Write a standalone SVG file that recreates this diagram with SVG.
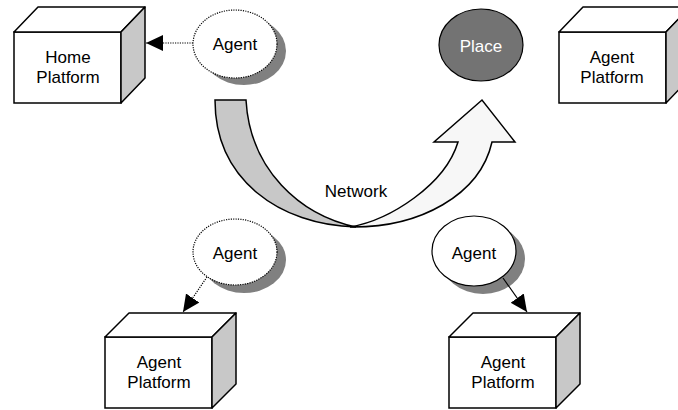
<svg xmlns="http://www.w3.org/2000/svg" width="678" height="410" viewBox="0 0 678 410">
<style>
text{font-family:"Liberation Sans",Arial,sans-serif;font-size:17px;text-anchor:middle;fill:#000}
.front{fill:#fff;stroke:#000;stroke-width:1.5}
.top{fill:#fff;stroke:#000;stroke-width:1.5;stroke-linejoin:round}
.side{fill:#c8c8c8;stroke:#000;stroke-width:1.5;stroke-linejoin:round}
.shadow{fill:#808080}
.agent{fill:#fff;stroke:#000;stroke-width:1.2}
.dotted{stroke-dasharray:1.2 1.2}
.conn{stroke:#000;stroke-width:1.2;fill:none}
</style>
<defs>
<marker id="ah" markerUnits="userSpaceOnUse" markerWidth="18" markerHeight="17" refX="17" refY="8" orient="auto">
<path d="M0,0 L17,8 L0,16 Z" fill="#000"/>
</marker>
</defs>

<g id="network">
<path d="M350,227 C390,220 445,185 458,142 L434,142 L482,100 L515,142 L492,142 C480,195 420,228 350,227 Z" fill="#f7f7f7" stroke="#000" stroke-width="1.5" stroke-linejoin="miter"/>
<path d="M215,100 L246,100 C250,170 300,215 356,227 C280,225 215,180 215,100 Z" fill="#c8c8c8" stroke="#000" stroke-width="1.5"/>
<text x="356" y="197">Network</text>
</g>

<g id="home-platform">
<rect class="front" x="14" y="32" width="107" height="71"/>
<polygon class="top" points="14,32 38,7 145,7 121,32"/>
<polygon class="side" points="121,32 145,7 145,78 121,103"/>
<text x="68" y="63">Home</text>
<text x="68" y="83">Platform</text>
</g>

<g id="agent-platform-top">
<rect class="front" x="559" y="32" width="107" height="71"/>
<polygon class="top" points="559,32 583,7 690,7 666,32"/>
<polygon class="side" points="666,32 690,7 690,78 666,103"/>
<text x="612" y="63">Agent</text>
<text x="612" y="83">Platform</text>
</g>

<g id="agent-platform-bl">
<rect class="front" x="105" y="337" width="107" height="71"/>
<polygon class="top" points="105,337 129,313 236,313 212,337"/>
<polygon class="side" points="212,337 236,313 236,384 212,408"/>
<text x="159" y="368">Agent</text>
<text x="159" y="388">Platform</text>
</g>

<g id="agent-platform-br">
<rect class="front" x="449" y="337" width="107" height="71"/>
<polygon class="top" points="449,337 473,313 580,313 556,337"/>
<polygon class="side" points="556,337 580,313 580,384 556,408"/>
<text x="503" y="368">Agent</text>
<text x="503" y="388">Platform</text>
</g>

<g id="place">
<ellipse cx="481" cy="45" rx="42" ry="36" fill="#737373" stroke="#000" stroke-width="1.2"/>
<text x="481" y="52" style="fill:#fff">Place</text>
</g>

<g id="agent-top">
<ellipse class="shadow" cx="244" cy="51" rx="42" ry="34"/>
<ellipse class="agent dotted" cx="235" cy="44" rx="42" ry="34"/>
<text x="235" y="50">Agent</text>
</g>

<g id="agent-bl">
<ellipse class="shadow" cx="244" cy="260" rx="42" ry="33"/>
<ellipse class="agent dotted" cx="235" cy="252" rx="42" ry="33"/>
<text x="235" y="259">Agent</text>
</g>

<g id="agent-br">
<ellipse class="shadow" cx="483" cy="259" rx="42" ry="35"/>
<ellipse class="agent" cx="474" cy="251" rx="42" ry="35"/>
<text x="474" y="259">Agent</text>
</g>

<g id="connectors">
<line class="conn dotted" x1="193" y1="43" x2="146" y2="43" marker-end="url(#ah)"/>
<line class="conn dotted" x1="207" y1="277" x2="183" y2="312" marker-end="url(#ah)"/>
<line class="conn" x1="503" y1="278" x2="527" y2="312" marker-end="url(#ah)"/>
</g>
</svg>
